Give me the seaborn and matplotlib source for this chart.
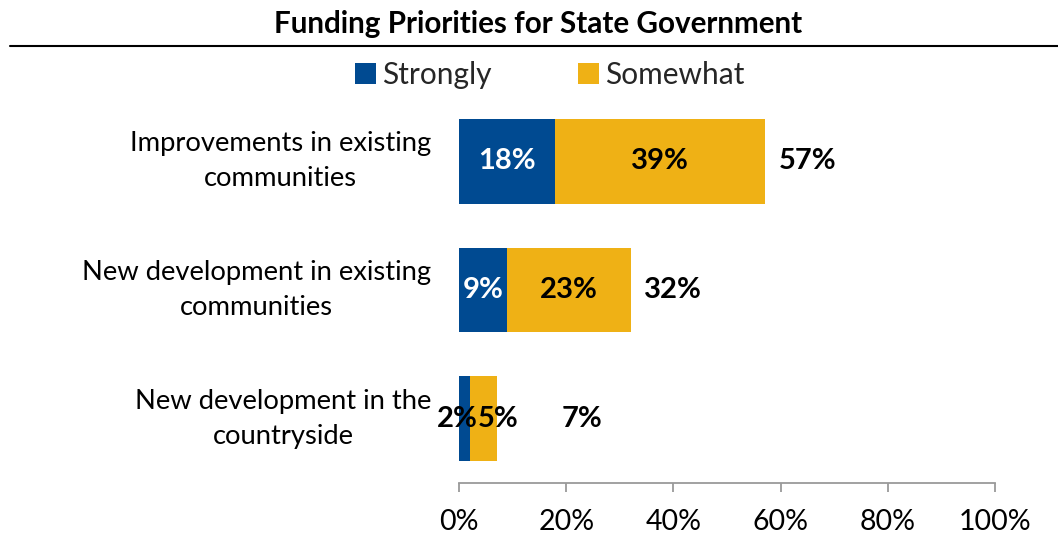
import matplotlib
matplotlib.use("Agg")
import matplotlib.pyplot as plt
from matplotlib.lines import Line2D
from matplotlib.patches import Patch
import seaborn as sns
import pandas as pd

categories = [
    "Improvements in existing\ncommunities",
    "New development in existing\ncommunities",
    "New development in the\ncountryside",
]
strongly = [18, 9, 2]
somewhat = [39, 23, 5]
tick_values = [0, 20, 40, 60, 80, 100]
tick_labels = ["0%", "20%", "40%", "60%", "80%", "100%"]
strong_label_colors = ["white", "white", "black"]

BLUE = "#004A91"
GOLD = "#EFB115"

sns.set_theme(style="white")
plt.rcParams["font.family"] = ["Lato", "DejaVu Sans"]

totals = [a + b for a, b in zip(strongly, somewhat)]
df = pd.DataFrame({"category": categories, "strongly": strongly,
                   "somewhat": somewhat, "total": totals})

W, H = 1058, 540
fig = plt.figure(figsize=(W / 100, H / 100), dpi=100)
ax = fig.add_axes([459 / W, 1 - 483 / H, 536 / W, (483 - 97) / H])

# stacked bars: the total in gold, the "strongly" part drawn over it in blue
sns.barplot(data=df, x="total", y="category", color=GOLD, width=0.66,
            saturation=1, ax=ax)
sns.barplot(data=df, x="strongly", y="category", color=BLUE, width=0.66,
            saturation=1, ax=ax)
for p in ax.patches:
    p.set_edgecolor("none")

LBL = 21
for i, (s, m, t) in enumerate(zip(strongly, somewhat, totals)):
    if s < 5:
        # segments too thin for a label: set the two labels side by side
        ax.text(s + 1.5, i, f"{s}%", ha="right", va="center", fontsize=LBL,
                fontweight="bold", color=strong_label_colors[i])
        ax.text(s + 1.5, i, f"{m}%", ha="left", va="center", fontsize=LBL,
                fontweight="bold", color="black")
    else:
        ax.text(s / 2, i, f"{s}%", ha="center", va="center", fontsize=LBL,
                fontweight="bold", color=strong_label_colors[i])
        ax.text(s + m / 2, i, f"{m}%", ha="center", va="center", fontsize=LBL,
                fontweight="bold", color="black")
    ax.text(max(t + 8, 23), i, f"{t}%", ha="center", va="center",
            fontsize=LBL, fontweight="bold", color="black")

ax.set_xlim(0, 100)
ax.set_ylim(2.5, -0.5)
ax.set_xticks(tick_values)
ax.set_xticklabels(tick_labels)
ax.set_xlabel("")
ax.set_ylabel("")
for side in ("top", "right", "left"):
    ax.spines[side].set_visible(False)
ax.spines["bottom"].set_color("#9A9A9A")
ax.spines["bottom"].set_linewidth(1.3)
ax.tick_params(axis="x", which="major", direction="out", length=6.5,
               width=1.3, color="#9A9A9A", pad=12, labelsize=20.5,
               labelcolor="black", bottom=True)
ax.tick_params(axis="y", length=0, pad=20, labelsize=19.7, labelcolor="black")
for lab in ax.get_yticklabels():
    lab.set_multialignment("center")
    lab.set_linespacing(1.5)
    lab.set_verticalalignment("center")

fig.text(538 / W, 1 - 24 / H, "Funding Priorities for State Government",
         ha="center", va="center", fontsize=21.3, fontweight="bold",
         color="black")
fig.add_artist(Line2D([10 / W, 1.0], [1 - 46 / H, 1 - 46 / H],
                      transform=fig.transFigure, color="black", lw=1.5))

handles = [Patch(facecolor=BLUE, edgecolor="none", label="Strongly"),
           Patch(facecolor=GOLD, edgecolor="none", label="Somewhat")]
fig.legend(handles=handles, loc="center", bbox_to_anchor=(550 / W, 1 - 75 / H),
           ncol=2, frameon=False, fontsize=21.5, handlelength=0.7,
           handleheight=0.7, handletextpad=0.2, columnspacing=2.9)

fig.savefig("out.png", dpi=100)
